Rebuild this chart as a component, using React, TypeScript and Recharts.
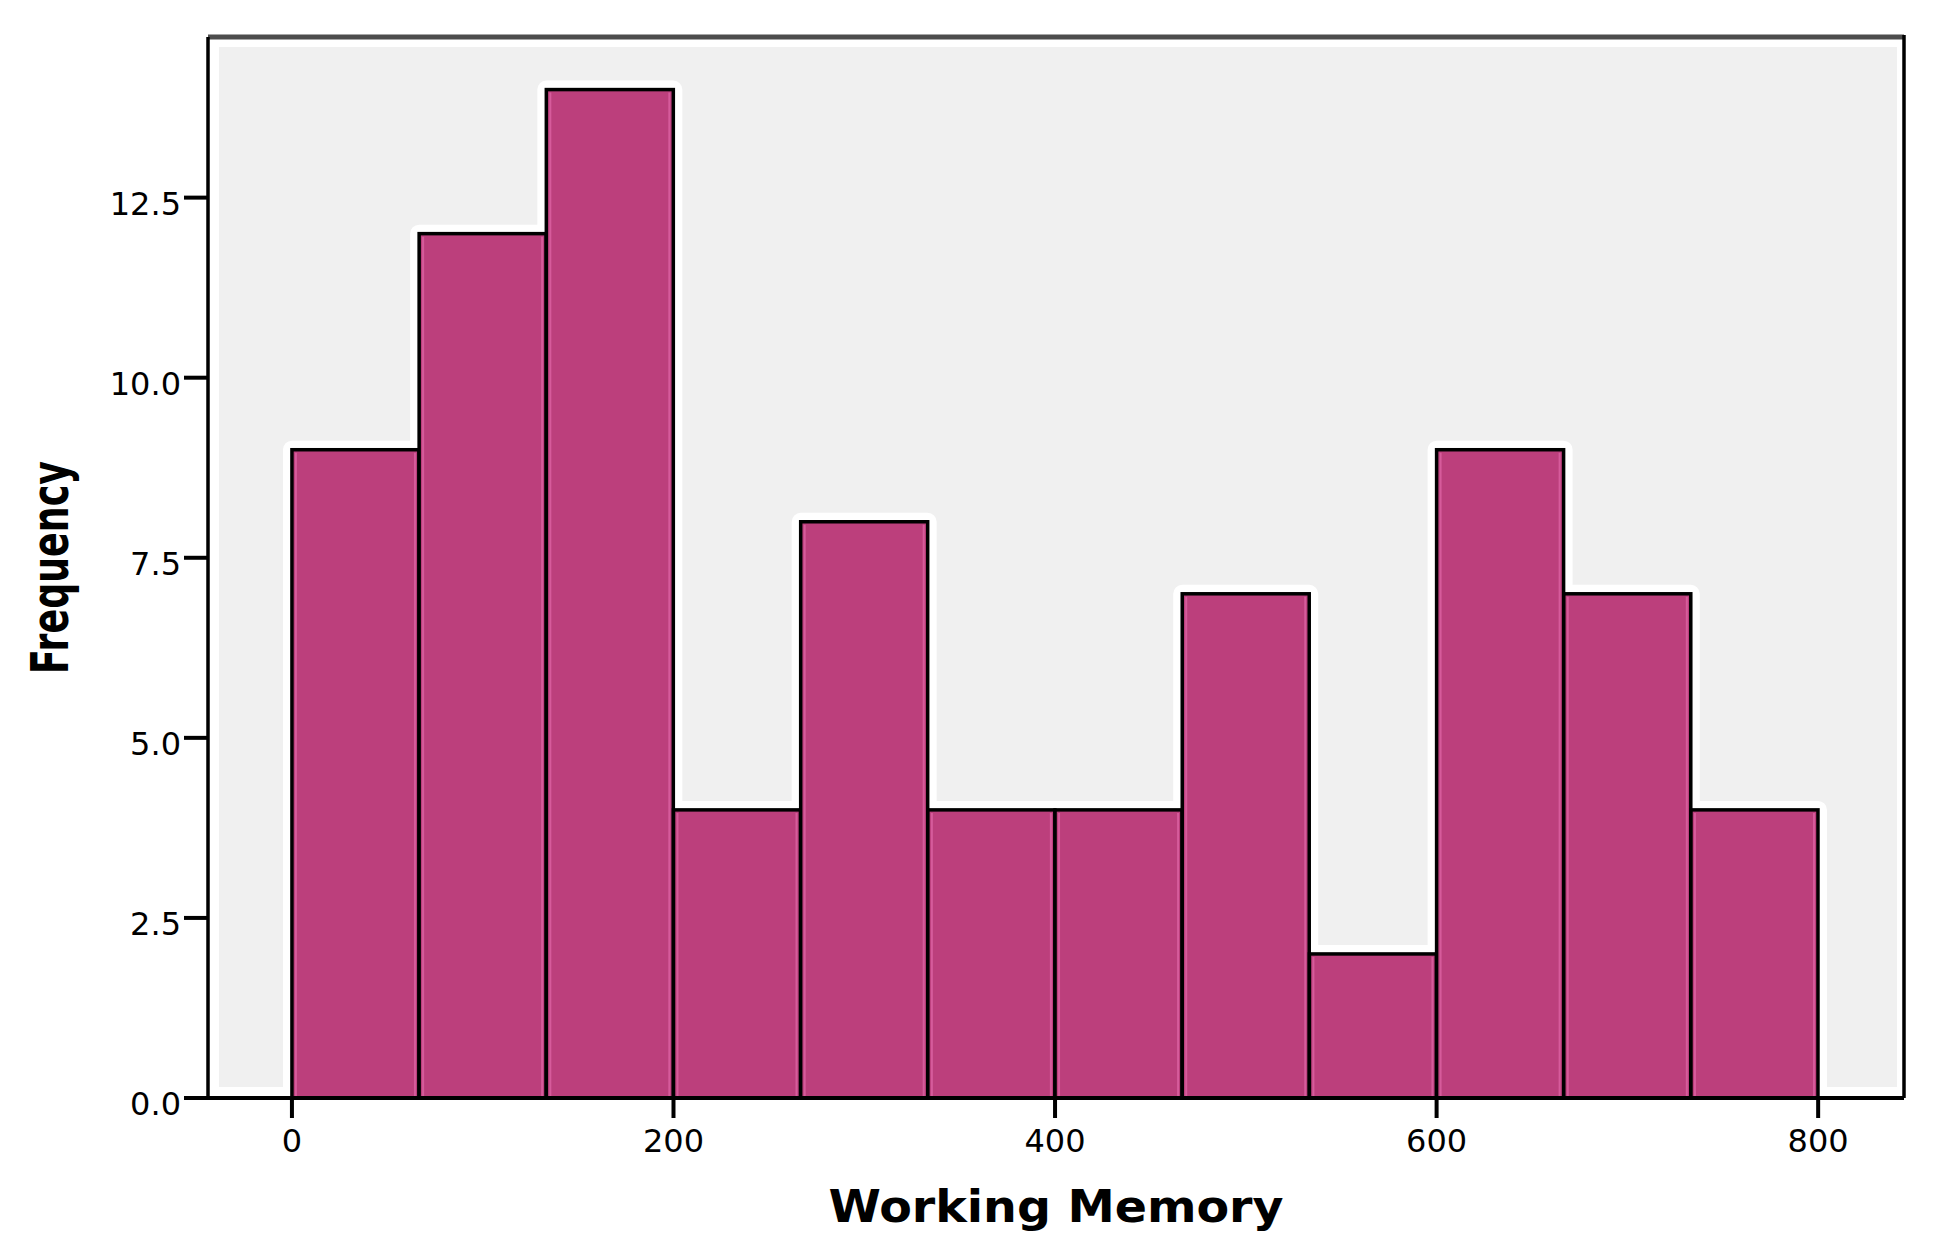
import { BarChart, Bar, XAxis, YAxis, ReferenceArea } from 'recharts'

// histogram bins (centres) and counts
const binCenters = [33.33, 100, 166.67, 233.33, 300, 366.67, 433.33, 500, 566.67, 633.33, 700, 766.67]
const frequencies = [9, 12, 14, 4, 8, 4, 4, 7, 2, 9, 7, 4]
const xTicks = [0, 200, 400, 600, 800]
const yTicks = [0, 2.5, 5, 7.5, 10, 12.5]
const xTitle = 'Working Memory'
const yTitle = 'Frequency'

const data = binCenters.map((mid, i) => ({ mid, count: frequencies[i] }))

const X_DOMAIN: [number, number] = [-44, 845]
const Y_DOMAIN: [number, number] = [0, 14.73]

const FONT = '"DejaVu Sans", Verdana, sans-serif'
const BAR_FILL = '#bc3f7c'

function PlotFrame(props: any) {
  const { x, y, width, height } = props
  return (
    <g>
      <rect x={x} y={y} width={width} height={height} fill="#ffffff" />
      <rect x={x + 11} y={y + 10} width={width - 18} height={height - 21} fill="#f0f0f0" />
      <line x1={x} x2={x + width} y1={y} y2={y} stroke="#4d4d4d" strokeWidth={5} />
      <line x1={x + width} x2={x + width} y1={y - 2} y2={y + height} stroke="#000" strokeWidth={3.5} />
    </g>
  )
}

function HaloBar(props: any) {
  const { x, y, width, height } = props
  if (!height) return null
  return (
    <rect
      x={x}
      y={y}
      width={width}
      height={height}
      fill="#ffffff"
      stroke="#ffffff"
      strokeWidth={18}
      strokeLinejoin="round"
    />
  )
}

function HistBar(props: any) {
  const { x, y, width, height } = props
  if (!height) return null
  return (
    <g>
      <rect x={x} y={y} width={width} height={height} fill={BAR_FILL} />
      <line x1={x + 4} x2={x + 4} y1={y + 3} y2={y + height} stroke="#d65b9b" strokeWidth={2} />
      <line x1={x + width - 4} x2={x + width - 4} y1={y + 3} y2={y + height} stroke="#d65b9b" strokeWidth={2} />
      <rect x={x} y={y} width={width} height={height} fill="none" stroke="#000" strokeWidth={3.5} />
    </g>
  )
}

function XTick(props: any) {
  const { x, y, payload } = props
  return (
    <text x={x} y={y + 32} textAnchor="middle" fontFamily={FONT} fontSize={32} fill="#000">
      {payload.value}
    </text>
  )
}

function YTick(props: any) {
  const { x, y, payload } = props
  return (
    <text x={x - 1} y={y + 17} textAnchor="end" fontFamily={FONT} fontSize={32} fill="#000">
      {Number(payload.value).toFixed(1)}
    </text>
  )
}

function XTitle(props: any) {
  const { x, y, width } = props.viewBox
  return (
    <text
      transform={`translate(${x + width / 2}, ${y + 124}) scale(1.08, 1)`}
      textAnchor="middle"
      fontFamily={FONT}
      fontWeight="bold"
      fontSize={44}
      fill="#000"
    >
      {xTitle}
    </text>
  )
}

function YTitle(props: any) {
  const { y, height } = props.viewBox
  return (
    <text
      transform={`translate(68, ${y + height / 2}) rotate(-90) scale(0.7, 1)`}
      textAnchor="middle"
      fontFamily={FONT}
      fontWeight="bold"
      fontSize={52}
      fill="#000"
    >
      {yTitle}
    </text>
  )
}

export default function App() {
  return (
    <div style={{ position: 'absolute', left: 0, top: 0, width: 1937, height: 1252, background: '#fff' }}>
      <BarChart
        width={1937}
        height={1252}
        data={data}
        margin={{ top: 37, right: 33, bottom: 0, left: 0 }}
        barCategoryGap={0}
        barGap={0}
      >
        <ReferenceArea
          x1={X_DOMAIN[0]}
          x2={X_DOMAIN[1]}
          y1={Y_DOMAIN[0]}
          y2={Y_DOMAIN[1]}
          shape={PlotFrame}
          ifOverflow="visible"
        />
        <XAxis
          xAxisId={0}
          type="number"
          dataKey="mid"
          domain={X_DOMAIN}
          ticks={xTicks}
          interval={0}
          allowDataOverflow
          height={154}
          axisLine={{ stroke: '#000', strokeWidth: 4 }}
          tickLine={{ stroke: '#000', strokeWidth: 4 }}
          tickSize={20}
          tickMargin={2}
          tick={<XTick />}
          label={{ content: XTitle }}
        />
        <XAxis xAxisId="halo" type="number" dataKey="mid" domain={X_DOMAIN} allowDataOverflow hide />
        <YAxis
          type="number"
          domain={Y_DOMAIN}
          ticks={yTicks}
          interval={0}
          allowDataOverflow
          width={208}
          axisLine={{ stroke: '#000', strokeWidth: 3.5 }}
          tickLine={{ stroke: '#000', strokeWidth: 4 }}
          tickSize={24}
          tickMargin={2}
          tick={<YTick />}
          label={{ content: YTitle }}
        />
        <Bar xAxisId="halo" dataKey="count" shape={HaloBar} isAnimationActive={false} />
        <Bar xAxisId={0} dataKey="count" shape={HistBar} isAnimationActive={false} />
      </BarChart>
    </div>
  )
}
